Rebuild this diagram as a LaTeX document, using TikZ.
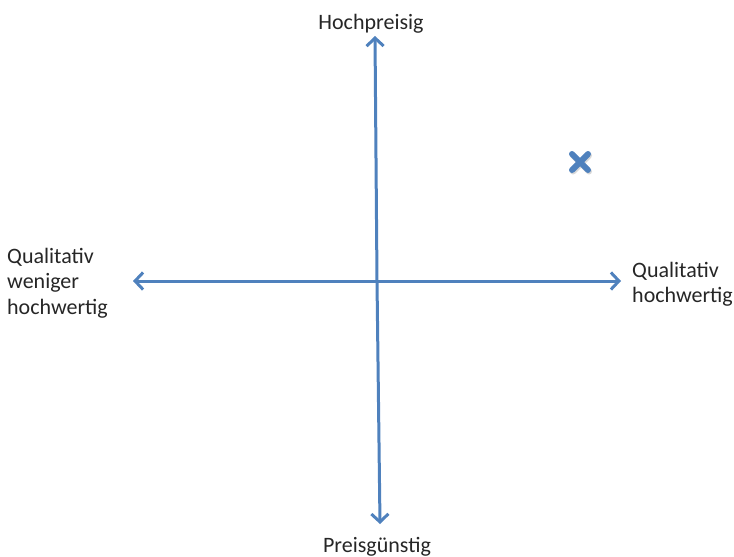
\documentclass[tikz,border=0pt]{standalone}
\usepackage{fontspec}
\setmainfont{Carlito}
\usetikzlibrary{arrows.meta, shapes.misc, positioning}
\definecolor{axisblue}{RGB}{79,129,189}
\tikzset{
    axis/.style={draw=axisblue, line width=3pt, -{Straight Barb[length=8pt, width=17pt, line width=3pt]}},
    lbl/.style={font=\fontsize{22}{25.5}\selectfont, text=black!85, inner sep=0pt, align=left},
    marker/.style={cross out, draw=axisblue, line width=6pt, line cap=round, minimum size=10pt, inner sep=0pt}
}
\newcommand{\axisend}[2]{
    \coordinate (#1) at (#2);
}

\begin{document}
\begin{tikzpicture}[x=1pt, y=-1pt]
    \useasboundingbox (0, 0) rectangle (734, 557);
    \axisend{origin}{377, 281}
    \axisend{top}{375, 36}
    \axisend{bottom}{380, 524}
    \axisend{left}{133, 281}
    \axisend{right}{621, 281}
    \node[lbl, anchor=base] (hoch) at (371, 29) {Hochpreisig};
    \node[lbl, anchor=base] (guenstig) at (377, 552) {Preisgünstig};
    \node[lbl, anchor=west] (wenig) at (7, 283) {Qualitativ\\weniger\\hochwertig};
    \node[lbl, anchor=west] (hochw) at (632, 284) {Qualitativ\\hochwertig};
    \node[marker, draw=black!15, xshift=1pt, yshift=-1.5pt] (shadow) at (580, 162) {};
    \node[marker] (point) at (580, 162) {};
    \draw[axis] (origin) -- (top);
    \draw[axis] (origin) -- (bottom);
    \draw[axis] (origin) -- (left);
    \draw[axis] (origin) -- (right);
\end{tikzpicture}
\end{document}
